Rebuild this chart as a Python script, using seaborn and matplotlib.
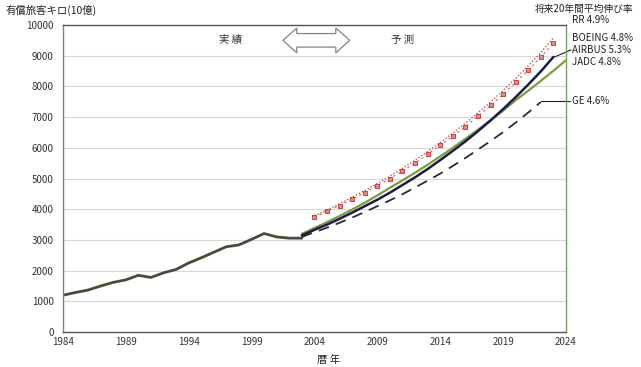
import numpy as np
import pandas as pd
import matplotlib
matplotlib.use("Agg")
import matplotlib.pyplot as plt
from matplotlib.patches import Polygon
import seaborn as sns

# actual (historical) traffic
hist_years = list(range(1984, 2004))
hist_rpk = [1200, 1290, 1370, 1500, 1620, 1700, 1850, 1780, 1930, 2040,
            2250, 2420, 2600, 2780, 2840, 3020, 3210, 3100, 3060, 3060]

# forecasts
rr_years = list(range(2004, 2024))
rr_rpk = [3790, 3980, 4180, 4390, 4610, 4840, 5080, 5330, 5600, 5880,
          6170, 6480, 6800, 7140, 7490, 7870, 8260, 8670, 9100, 9580]

boeing_years = list(range(2004, 2024))
boeing_rpk = [3740, 3930, 4120, 4330, 4540, 4770, 5000, 5250, 5510, 5790,
              6080, 6380, 6690, 7030, 7380, 7740, 8130, 8530, 8960, 9400]

airbus_years = list(range(2003, 2024))
airbus_rpk = [3150, 3330, 3500, 3690, 3890, 4100, 4310, 4540, 4790, 5040,
              5310, 5600, 5900, 6210, 6540, 6890, 7260, 7650, 8060, 8490, 8960]

jadc_years = list(range(2003, 2025))
jadc_rpk = [3200, 3390, 3580, 3780, 3990, 4210, 4450, 4700, 4940, 5190, 5450,
            5720, 6000, 6290, 6590, 6900, 7210, 7550, 7860, 8180, 8510, 8850]

ge_years = list(range(2003, 2023))
ge_rpk = [3100, 3250, 3400, 3560, 3730, 3910, 4100, 4290, 4490, 4710,
          4930, 5160, 5410, 5670, 5940, 6220, 6510, 6820, 7150, 7490]

labels = ["RR 4.9%", "BOEING 4.8%", "AIRBUS 5.3%", "JADC 4.8%", "GE 4.6%"]
label_y = [10160, 9580, 9190, 8800, 7520]

sns.set_style("white")
plt.rcParams["font.family"] = ["Noto Sans CJK JP", "DejaVu Sans"]

fig = plt.figure(figsize=(6.41, 3.67), dpi=100)
ax = fig.add_axes([0.098, 0.095, 0.785, 0.837])

ax.grid(axis="y", color="#d8d8d8", lw=0.8)
ax.set_axisbelow(True)

sns.lineplot(x=hist_years, y=hist_rpk, ax=ax, color="#4a4a3c", lw=2.0)
sns.lineplot(x=ge_years, y=ge_rpk, ax=ax, color="#2a2a38", lw=1.3,
             dashes=False, linestyle=(0, (6, 4)))
sns.lineplot(x=jadc_years, y=jadc_rpk, ax=ax, color="#7c9a3e", lw=1.6)
sns.lineplot(x=airbus_years, y=airbus_rpk, ax=ax, color="#1c1c48", lw=1.8)
sns.lineplot(x=boeing_years, y=boeing_rpk, ax=ax, color="#d86060", lw=0.8,
             linestyle=(0, (2, 3)), marker="s", markersize=3.2,
             markerfacecolor="#e58a8a", markeredgecolor="#c84848")
sns.lineplot(x=rr_years, y=rr_rpk, ax=ax, color="#c83030", lw=0.9,
             linestyle=":")

ax.set_xlim(1984, 2024)
ax.set_ylim(0, 10000)
ax.set_xticks(range(1984, 2025, 5))
ax.set_yticks(range(0, 10001, 1000))
ax.tick_params(axis="x", direction="in", length=3, labelsize=7, colors="#333333")
ax.tick_params(axis="y", direction="out", length=3, labelsize=7, colors="#333333")
ax.set_xlabel("")
ax.set_ylabel("")

for side in ["top", "bottom"]:
    ax.spines[side].set_color("#555555")
    ax.spines[side].set_linewidth(1.0)
ax.spines["left"].set_color("#5a9a5a")
ax.spines["right"].set_color("#7a9a6a")
ax.spines["left"].set_linewidth(1.0)
ax.spines["right"].set_linewidth(1.0)

# series labels at the right
for txt, yy in zip(labels, label_y):
    ax.text(2024.5, yy, txt, fontsize=7, va="center", ha="left",
            color="#222222", clip_on=False)
ax.plot([2023.1, 2024.4], [airbus_rpk[-1], label_y[2]], color="#222222",
        lw=0.8, clip_on=False)
ax.plot([ge_years[-1], 2024.3], [label_y[4], label_y[4]], color="#222222",
        lw=0.8, clip_on=False)

# actual / forecast marker
ax.text(1997.3, 9500, "実 績", fontsize=7.5, ha="center", va="center",
        color="#333333")
ax.text(2011.0, 9500, "予 測", fontsize=7.5, ha="center", va="center",
        color="#333333")
arrow = [(2001.5, 9500), (2002.6, 9900), (2002.6, 9720), (2005.7, 9720),
         (2005.7, 9900), (2006.8, 9500), (2005.7, 9090), (2005.7, 9280),
         (2002.6, 9280), (2002.6, 9090)]
ax.add_patch(Polygon(arrow, closed=True, facecolor="white",
                     edgecolor="#7a8a7a", lw=0.9))

fig.text(0.008, 0.972, "有償旅客キロ(10億)", fontsize=7.5, ha="left",
         va="center", color="#222222")
fig.text(0.988, 0.975, "将来20年間平均伸び率", fontsize=7, ha="right",
         va="center", color="#222222")
fig.text(0.512, 0.018, "暦 年", fontsize=7.5, ha="center", va="center",
         color="#222222")

fig.savefig("out.png", dpi=100)
